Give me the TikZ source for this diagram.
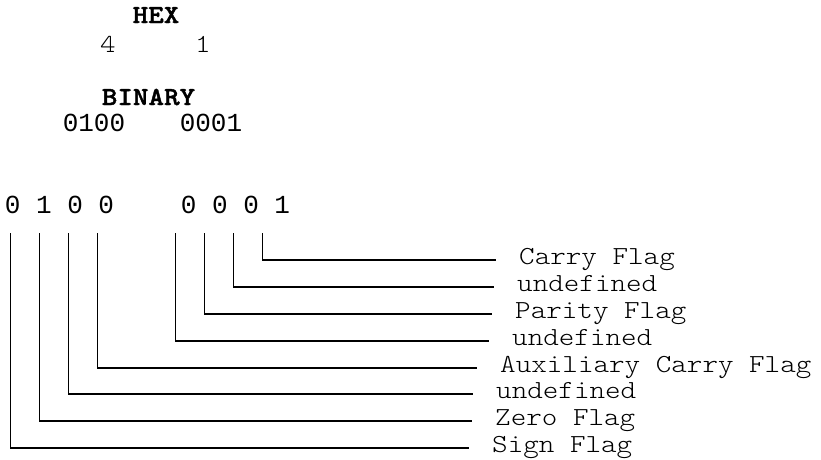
\documentclass[tikz,border=0pt]{standalone}
\usepackage{fontspec}
\newfontfamily\courfont{lmmonolt10-regular.otf}[FakeStretch=1.14]
\newfontfamily\courbfont{lmmonolt10-bold.otf}[FakeStretch=1.14,FakeBold=1.5]
\newfontfamily\lmonofont{Liberation Mono}
\tikzset{
  txt/.style={inner sep=0pt, anchor=base},
  lbl/.style={inner sep=0pt, anchor=base west, font=\fontsize{26}{26}\selectfont\courfont},
  hdr/.style={txt, font=\fontsize{26}{26}\selectfont\courbfont},
  num/.style={txt, font=\fontsize{26}{26}\selectfont\courfont},
  sans/.style={txt, font=\fontsize{26}{26}\selectfont\lmonofont},
  wire/.style={line width=1.1pt, black}
}
\begin{document}
\begin{tikzpicture}[x=1pt,y=-1pt]
\path[use as bounding box] (0,0) rectangle (821,459);
% header
\node[hdr] (hex) at (156,23) {HEX};
\node[num] (h4) at (108,52) {4};
\node[num] (h1) at (203,52) {1};
\node[hdr] (bin) at (148.5,105) {BINARY};
\node[sans] (b1) at (94,131) {0100};
\node[sans] (b2) at (211,131) {0001};
% digit row
\node[sans] (d1) at (59.5,213) {0 1 0 0};
\node[sans] (d2) at (235.5,213) {0 0 0 1};
% tops of connectors
\coordinate (t1) at (10.7,233);
\coordinate (t2) at (39.3,233);
\coordinate (t3) at (68.3,233);
\coordinate (t4) at (97.3,233);
\coordinate (t5) at (175.7,233);
\coordinate (t6) at (204.3,233);
\coordinate (t7) at (233.3,233);
\coordinate (t8) at (262.7,233);
% labels
\node[lbl] (l8) at (519,264) {Carry Flag};
\node[lbl] (l7) at (517,291) {undefined};
\node[lbl] (l6) at (515,318) {Parity Flag};
\node[lbl] (l5) at (512,345) {undefined};
\node[lbl] (l4) at (500,372) {Auxiliary Carry Flag};
\node[lbl] (l3) at (496,398) {undefined};
\node[lbl] (l2) at (495,425) {Zero Flag};
\node[lbl] (l1) at (492,452) {Sign Flag};
% connectors
\foreach \i in {1,...,8}{
  \draw[wire] (t\i) |- ([shift={(-23,-4)}]l\i.base west);
}
\end{tikzpicture}
\end{document}
